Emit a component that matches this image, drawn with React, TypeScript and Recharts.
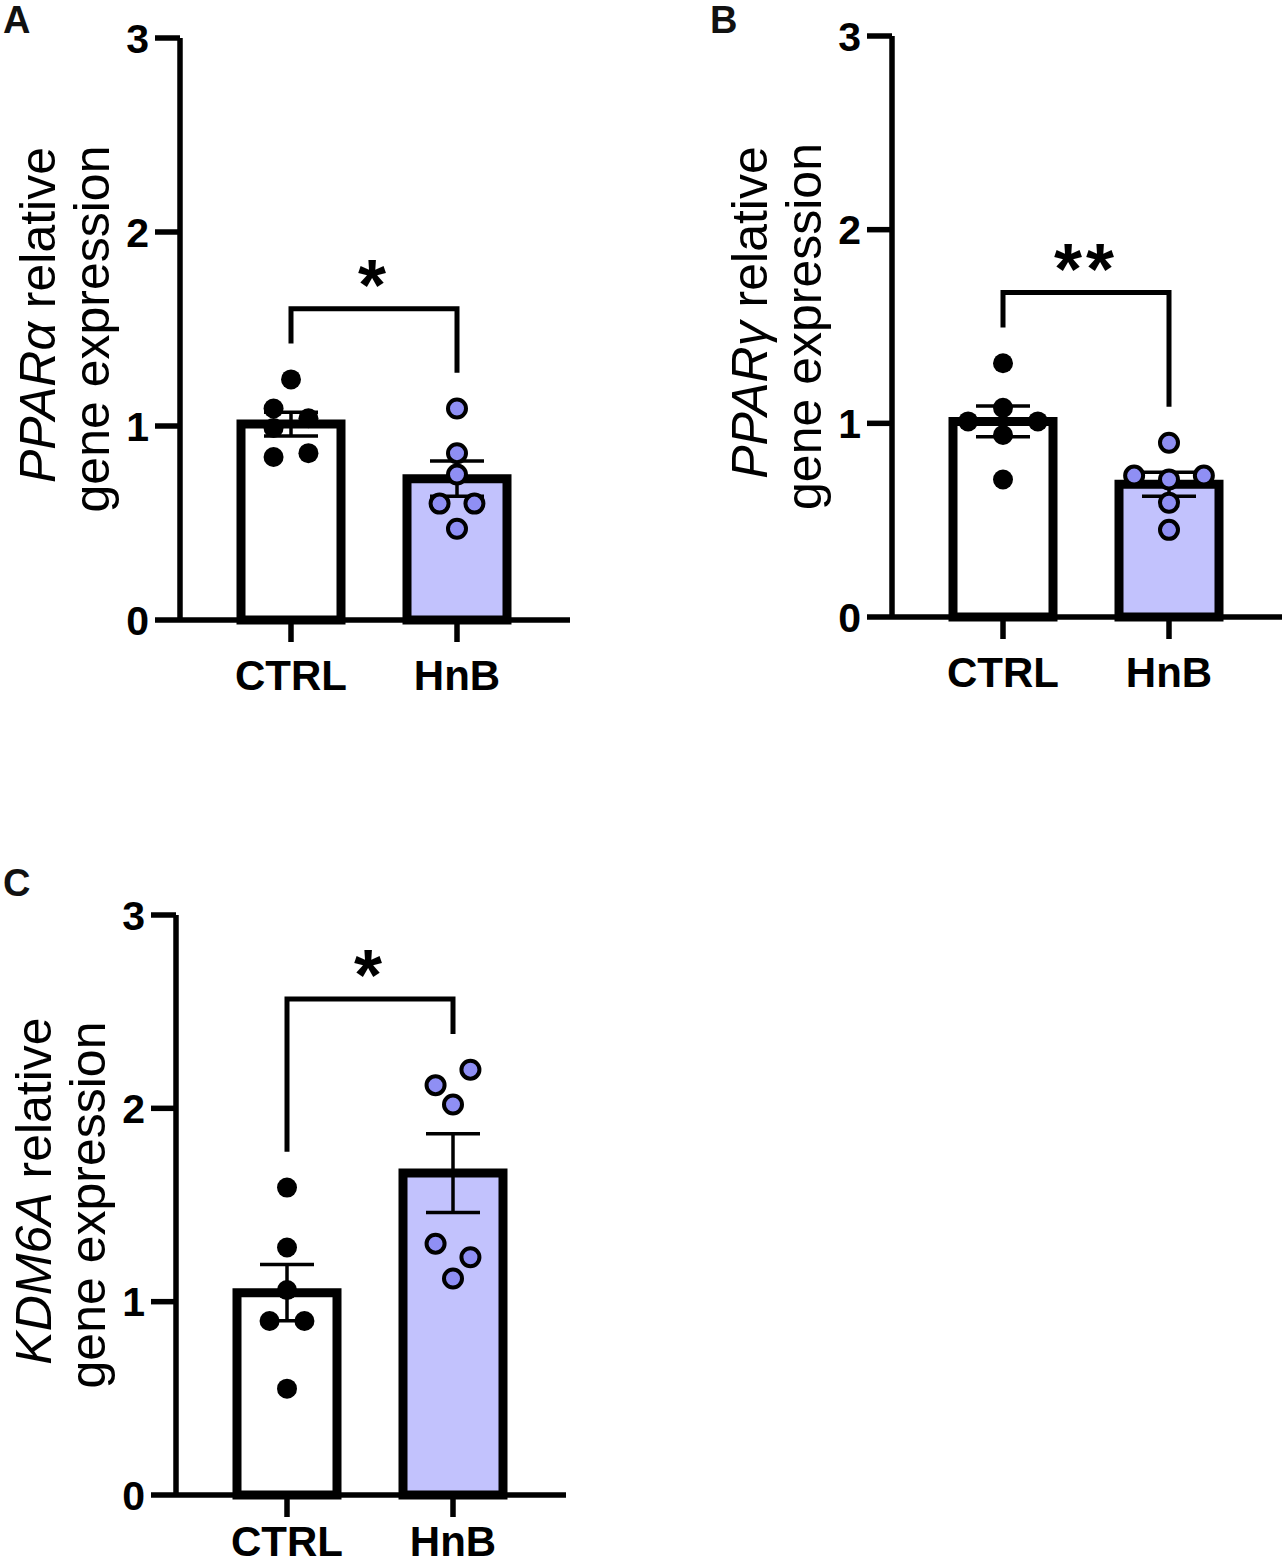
import React from 'react';
import { ComposedChart, Bar, Cell, ErrorBar, Scatter, XAxis, YAxis } from 'recharts';

const FONT = '"Liberation Sans", Arial, Helvetica, sans-serif';

const groups = ['CTRL', 'HnB'];
const yTicks = [0, 1, 2, 3];

// replicate values (relative expression)
const pparaCtrl = [1.24, 1.09, 1.04, 0.99, 0.84, 0.86];
const pparaHnb = [1.09, 0.86, 0.75, 0.6, 0.6, 0.47];
const ppargCtrl = [1.31, 1.08, 1.01, 1.01, 0.94, 0.71];
const ppargHnb = [0.9, 0.73, 0.71, 0.73, 0.59, 0.45];
const kdm6aCtrl = [1.59, 1.28, 1.06, 0.9, 0.9, 0.55];
const kdm6aHnb = [2.12, 2.2, 2.02, 1.3, 1.23, 1.12];

// prism-style horizontal spreading of the dots (slot per replicate)
const pparaCtrlSlot = [0, -1, 1, -1, -1, 1];
const pparaHnbSlot = [0, 0, 0, -1, 1, 0];
const ppargCtrlSlot = [0, 0, -2, 2, 0, 0];
const ppargHnbSlot = [0, -2, 0, 2, 0, 0];
const kdm6aCtrlSlot = [0, 0, 0, -1, 1, 0];
const kdm6aHnbSlot = [-1, 1, 0, -1, 1, 0];

const CHART_W = 600;
const CHART_H = 720;
const Y_AXIS_W = 70;
const X_AXIS_H = 80;
const MARGIN_TOP = 38;
const MARGIN_LEFT = 110;
const PAD = { left: 28, right: 30 };
const SLOT = 0.105;

const LEG_GAP = 0.185;
const BRACKET_RISE = 0.18;
const STAR_RISE = 0.2;

const BAR_FILL = ['#ffffff', '#c2c2fd'];
const DOT_FILL = '#8f8ff4';

const mean = (v: number[]) => v.reduce((a, b) => a + b, 0) / v.length;
const sem = (v: number[]) => {
  const m = mean(v);
  const ss = v.reduce((a, b) => a + (b - m) * (b - m), 0);
  return Math.sqrt(ss / (v.length - 1)) / Math.sqrt(v.length);
};

const CtrlDot = (p: any) => <circle cx={p.cx} cy={p.cy} r={10} fill="#000" />;
const HnbDot = (p: any) => (
  <circle cx={p.cx} cy={p.cy} r={9} fill={DOT_FILL} stroke="#000" strokeWidth={4} />
);

function AxisTitle({ viewBox, gene, plotH }: any) {
  const right = viewBox ? viewBox.x + viewBox.width : MARGIN_LEFT + Y_AXIS_W;
  const cy = viewBox ? viewBox.y + viewBox.height / 2 : MARGIN_TOP + plotH / 2;
  const x1 = right - 142;
  const x2 = right - 88;
  const cy1 = cy - 14;
  const common = {
    textAnchor: 'middle' as const,
    dominantBaseline: 'central' as const,
    fontSize: 50,
    fontFamily: FONT,
    fill: '#000',
  };
  return (
    <g>
      <text {...common} x={x1} y={cy1} transform={`rotate(-90 ${x1} ${cy1})`}>
        <tspan fontStyle="italic">{gene}</tspan> relative
      </text>
      <text {...common} x={x2} y={cy} transform={`rotate(-90 ${x2} ${cy})`}>
        gene expression
      </text>
    </g>
  );
}

function Panel({ left, top, plotH, labelGap, gene, ctrl, hnb, ctrlSlot, hnbSlot, sig }: any) {
  const bars = [
    { group: groups[0], mean: mean(ctrl), sem: sem(ctrl) },
    { group: groups[1], mean: mean(hnb), sem: sem(hnb) },
  ];
  const ctrlDots = ctrl.map((y: number, i: number) => ({ x: 0.5 + ctrlSlot[i] * SLOT, y }));
  const hnbDots = hnb.map((y: number, i: number) => ({ x: 1.5 + hnbSlot[i] * SLOT, y }));

  const legL = Math.max(...ctrl) + LEG_GAP;
  const legR = Math.max(...hnb) + LEG_GAP;
  const bracketTop = Math.max(legL, legR) + BRACKET_RISE;
  const bracket = [
    { x: 0.5, y: legL },
    { x: 0.5, y: bracketTop },
    { x: 1.5, y: bracketTop },
    { x: 1.5, y: legR },
  ];
  const star = [{ x: 1, y: bracketTop + STAR_RISE }];

  const tickStyle = { fill: '#000', fontWeight: 700, fontFamily: FONT };

  return (
    <div style={{ position: 'absolute', left, top }}>
      <ComposedChart
        width={CHART_W}
        height={CHART_H}
        data={bars}
        margin={{
          top: MARGIN_TOP,
          right: 30,
          left: MARGIN_LEFT,
          bottom: CHART_H - MARGIN_TOP - plotH - X_AXIS_H,
        }}
      >
        <XAxis
          xAxisId="cat"
          dataKey="group"
          padding={PAD}
          height={X_AXIS_H}
          tickSize={22}
          tickMargin={labelGap}
          axisLine={{ stroke: '#000', strokeWidth: 5.5 }}
          tickLine={{ stroke: '#000', strokeWidth: 5.5 }}
          tick={{ ...tickStyle, fontSize: 42 }}
        />
        <XAxis xAxisId="num" type="number" dataKey="x" domain={[0, 2]} padding={PAD} hide />
        <YAxis
          width={Y_AXIS_W}
          domain={[0, 3]}
          ticks={yTicks}
          interval={0}
          tickSize={25}
          tickMargin={6}
          axisLine={{ stroke: '#000', strokeWidth: 5.5 }}
          tickLine={{ stroke: '#000', strokeWidth: 5.5 }}
          tick={{ ...tickStyle, fontSize: 41 }}
          label={{ content: (p: any) => <AxisTitle viewBox={p.viewBox} gene={gene} plotH={plotH} /> }}
        />
        <Bar
          xAxisId="cat"
          dataKey="mean"
          barSize={100}
          stroke="#000"
          strokeWidth={9}
          isAnimationActive={false}
        >
          {bars.map((b, i) => (
            <Cell key={b.group} fill={BAR_FILL[i]} />
          ))}
          <ErrorBar dataKey="sem" width={27} stroke="#000" strokeWidth={3.5} />
        </Bar>
        <Scatter
          xAxisId="num"
          data={bracket}
          dataKey="y"
          line={{ stroke: '#000', strokeWidth: 5 }}
          shape={() => <g />}
          isAnimationActive={false}
        />
        <Scatter xAxisId="num" data={ctrlDots} dataKey="y" shape={CtrlDot} isAnimationActive={false} />
        <Scatter xAxisId="num" data={hnbDots} dataKey="y" shape={HnbDot} isAnimationActive={false} />
        <Scatter
          xAxisId="num"
          data={star}
          dataKey="y"
          isAnimationActive={false}
          shape={(p: any) => (
            <text
              x={p.cx}
              y={p.cy + 40}
              textAnchor="middle"
              fontSize={72}
              fontWeight={700}
              fontFamily={FONT}
              letterSpacing={4}
              fill="#000"
            >
              {sig}
            </text>
          )}
        />
      </ComposedChart>
    </div>
  );
}

const letterStyle: React.CSSProperties = {
  position: 'absolute',
  fontFamily: FONT,
  fontWeight: 700,
  fontSize: 38,
  lineHeight: 1,
  color: '#111',
};

export default function App() {
  return (
    <div
      style={{
        position: 'absolute',
        left: 0,
        top: 0,
        width: 1286,
        height: 1568,
        overflow: 'hidden',
        background: '#fff',
      }}
    >
      <div style={{ ...letterStyle, left: 3, top: 1 }}>A</div>
      <div style={{ ...letterStyle, left: 710, top: 1 }}>B</div>
      <div style={{ ...letterStyle, left: 3, top: 864 }}>C</div>
      <Panel
        left={0}
        top={0}
        plotH={582}
        labelGap={18}
        gene="PPARα"
        ctrl={pparaCtrl}
        hnb={pparaHnb}
        ctrlSlot={pparaCtrlSlot}
        hnbSlot={pparaHnbSlot}
        sig="*"
      />
      <Panel
        left={712}
        top={-2}
        plotH={581}
        labelGap={18}
        gene="PPARγ"
        ctrl={ppargCtrl}
        hnb={ppargHnb}
        ctrlSlot={ppargCtrlSlot}
        hnbSlot={ppargHnbSlot}
        sig="**"
      />
      <Panel
        left={-4}
        top={877}
        plotH={580}
        labelGap={9}
        gene="KDM6A"
        ctrl={kdm6aCtrl}
        hnb={kdm6aHnb}
        ctrlSlot={kdm6aCtrlSlot}
        hnbSlot={kdm6aHnbSlot}
        sig="*"
      />
    </div>
  );
}
